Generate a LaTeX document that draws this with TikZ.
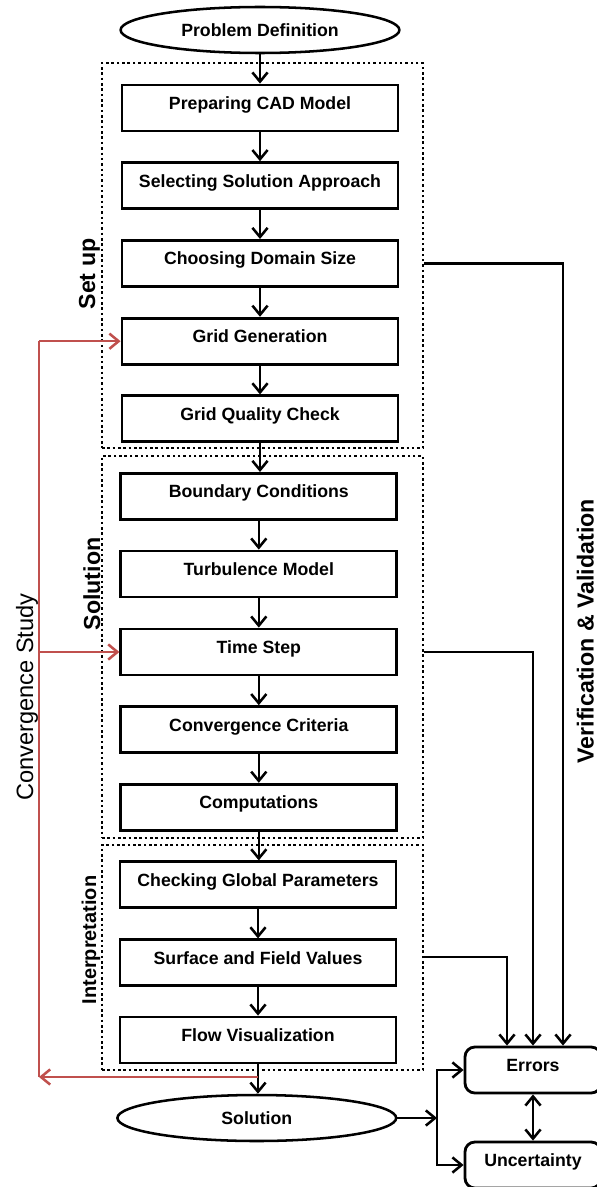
\documentclass[tikz,border=0pt]{standalone}
\usepackage{fontspec}
\setmainfont{Liberation Sans}
\usetikzlibrary{shapes.geometric, arrows.meta}

\definecolor{convred}{RGB}{192,80,77}

\begin{document}
\begin{tikzpicture}[
    >={Straight Barb[length=2.3mm, width=3.8mm]},
    stepbox/.style={draw, line width=2pt, minimum width=6.9cm, minimum height=1.15cm,
        font=\bfseries\fontsize{12.6}{15}\selectfont, text height=9pt, text depth=7pt},
    endbox/.style={draw, ellipse, line width=1.8pt, minimum width=6.97cm, minimum height=1.15cm,
        font=\bfseries\fontsize{12.6}{15}\selectfont},
    errbox/.style={draw, rounded corners=7pt, line width=2pt, minimum width=3.4cm, minimum height=1.15cm,
        font=\bfseries\fontsize{12.6}{15}\selectfont, text height=9pt, text depth=7pt},
    grp/.style={draw, dotted, line width=1.8pt, minimum width=8.025cm},
    grplabel/.style={rotate=90, anchor=base, font=\bfseries\fontsize{16.5}{20}\selectfont},
    flow/.style={->, line width=1.8pt},
    conv/.style={convred, line width=1.8pt},
]
    \useasboundingbox (0,0) rectangle (14.925,-29.675);

    % Gruppen (gepunktet)
    \node[grp, minimum height=9.625cm] (setup) at (6.5625,-6.3875) {};
    \node[grp, minimum height=9.55cm] (solgrp) at (6.5625,-16.175) {};
    \node[grp, minimum height=5.625cm] (intgrp) at (6.5625,-23.9375) {};

    % Gruppen-Beschriftungen
    \node[grplabel] (lsetup) at (2.375,-6.85) {Set up};
    \node[grplabel] (lsol) at (2.5,-14.6) {Solution};
    \node[grplabel, font=\bfseries\fontsize{14.2}{17}\selectfont] (lint) at (2.4,-23.5) {Interpretation};
    \node[grplabel] (lvv) at (14.84,-15.78) {Verification \& Validation};
    \node[grplabel, font=\fontsize{16.8}{20}\selectfont] (lconv) at (0.83,-17.43) {Convergence Study};

    % Start
    \node[endbox] (pd) at (6.5,-0.75) {Problem Definition};

    % Set up
    \node[stepbox] (prep) at (6.5,-2.70) {Preparing CAD Model};
    \node[stepbox] (sel) at (6.5,-4.64) {Selecting Solution Approach};
    \node[stepbox] (choose) at (6.5,-6.585) {Choosing Domain Size};
    \node[stepbox] (gg) at (6.5,-8.53) {Grid Generation};
    \node[stepbox] (gq) at (6.5,-10.47) {Grid Quality Check};

    % Solution
    \node[stepbox] (bc) at (6.47,-12.41) {Boundary Conditions};
    \node[stepbox] (tm) at (6.47,-14.35) {Turbulence Model};
    \node[stepbox] (ts) at (6.47,-16.30) {Time Step};
    \node[stepbox] (cc) at (6.47,-18.24) {Convergence Criteria};
    \node[stepbox] (comp) at (6.47,-20.18) {Computations};

    % Interpretation
    \node[stepbox] (cg) at (6.45,-22.12) {Checking Global Parameters};
    \node[stepbox] (sf) at (6.45,-24.07) {Surface and Field Values};
    \node[stepbox] (fv) at (6.45,-26.00) {Flow Visualization};

    % Ende
    \node[endbox] (sol) at (6.42,-27.95) {Solution};

    % Fehler / Unsicherheit
    \node[errbox] (err) at (13.325,-26.75) {Errors};
    \node[errbox] (unc) at (13.325,-29.125) {Uncertainty};

    % Hauptfluss
    \draw[flow] (pd) -- (prep);
    \draw[flow] (prep) -- (sel);
    \draw[flow] (sel) -- (choose);
    \draw[flow] (choose) -- (gg);
    \draw[flow] (gg) -- (gq);
    \draw[flow] (gq.south) -- (gq.south |- bc.north);
    \draw[flow] (bc) -- (tm);
    \draw[flow] (tm) -- (ts);
    \draw[flow] (ts) -- (cc);
    \draw[flow] (cc) -- (comp);
    \draw[flow] (comp.south) -- (comp.south |- cg.north);
    \draw[flow] (cg) -- (sf);
    \draw[flow] (sf) -- (fv);
    \draw[flow] (fv.south) -- (fv.south |- sol.north);

    % Verifikation & Validierung
    \draw[flow] (choose -| setup.east) -| ([xshift=0.75cm]err.north);
    \draw[flow] (ts -| solgrp.east) -| (err.north);
    \draw[flow] ([yshift=0.15cm]sf -| intgrp.east) -| ([xshift=-0.65cm]err.north);

    % Loesung -> Fehler / Unsicherheit
    \coordinate (br) at (10.925,-27.95);
    \draw[flow] (sol.east) -- (br);
    \draw[flow] (br) |- (err.west);
    \draw[flow] (br) |- (unc.west);
    \draw[flow, <->] (err.south) -- (unc.north);

    % Konvergenzstudie (rot)
    \coordinate (cs) at (0.975,-26.925);
    \draw[conv, ->] (fv.south |- cs) -- (cs);
    \draw[conv] (cs) -- (cs |- gg);
    \draw[conv, ->] (cs |- gg) -- (gg.west);
    \draw[conv, ->] (cs |- ts) -- (ts.west);
\end{tikzpicture}
\end{document}
